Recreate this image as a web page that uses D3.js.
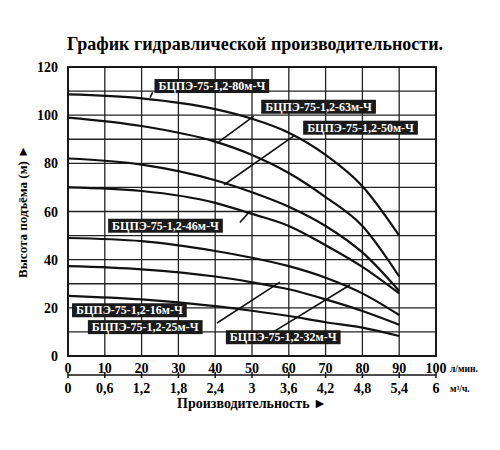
<!DOCTYPE html>
<html><head><meta charset="utf-8">
<script src="https://cdn.jsdelivr.net/npm/d3@7"></script>
<style>body{margin:0;background:#fff}</style>
</head><body><div id="chart"></div>
<script>
// flow, l/min
var flow = [0, 20, 40, 50, 60, 70, 80, 90];
var flowTicks = [0, 10, 20, 30, 40, 50, 60, 70, 80, 90, 100];
var m3Ticks = ["0", "0,6", "1,2", "1,8", "2,4", "3", "3,6", "4,2", "4,8", "5,4", "6"];
var headTicks = [0, 20, 40, 60, 80, 100, 120];

var pump80 = [108.6, 107, 102.5, 98.5, 92.7, 83.5, 70.5, 50];
var pump63 = [99, 95.5, 89, 83.5, 76, 66, 54, 33];
var pump50 = [82, 79.5, 73, 68, 62, 54, 43, 27];
var pump46 = [70, 68.5, 63.6, 59, 54, 46, 37, 26];
var pump32 = [49, 47.7, 43.6, 40.8, 37.3, 32.5, 26, 17];
var pump25 = [37.3, 36, 33, 30.6, 27.7, 23.5, 18.7, 13];
var pump16 = [25, 23.5, 20.7, 18.8, 16.6, 14, 11.8, 8.3];
var allPumps = [pump80, pump63, pump50, pump46, pump32, pump25, pump16];

// labels: name, box left/top in data units, leader from (data) to (data)
var labelNames = ["БЦПЭ-75-1,2-80м-Ч", "БЦПЭ-75-1,2-63м-Ч", "БЦПЭ-75-1,2-50м-Ч", "БЦПЭ-75-1,2-46м-Ч",
                  "БЦПЭ-75-1,2-16м-Ч", "БЦПЭ-75-1,2-25м-Ч", "БЦПЭ-75-1,2-32м-Ч"];
var labelPos = [[23.5, 115], [52.5, 106.4], [63.9, 97.7], [10.9, 57], [1.1, 21.9], [5.4, 14.9], [42.9, 10.7]];
var leaderFrom = [[23, 109.5], [50.5, 99.6], [61.4, 91.4], [49.5, 60.2], [null, null], [40.5, 13.7], [55.7, 9.9]];
var leaderTo = [[22.3, 107.3], [40.5, 88.4], [42.4, 71.1], [46.7, 55.4], [null, null], [57.6, 30.7], [76.6, 29.5]];

var W = 500, H = 450;
var margin = {top: 67, right: 64, bottom: 94, left: 68};
var width = 436 - 68, height = 356 - 67;

var svg = d3.select('#chart').append('svg').attr('width', W).attr('height', H)
  .style('font-family', '"Liberation Serif", "DejaVu Serif", serif').style('font-weight', 'bold');

svg.append('text').attr('x', 255).attr('y', 50).attr('text-anchor', 'middle')
  .attr('font-size', '18px').text('График гидравлической производительности.');

var g = svg.append('g').attr('transform', 'translate(' + margin.left + ',' + margin.top + ')');

var x = d3.scaleLinear().domain([0, 100]).range([0, width]);
var y = d3.scaleLinear().domain([0, 120]).range([height, 0]);

// grid
g.selectAll('.vg').data(d3.range(0, 101, 10)).enter().append('line')
  .attr('x1', d => x(d)).attr('x2', d => x(d)).attr('y1', 0).attr('y2', height)
  .attr('stroke', '#222').attr('stroke-width', 1.3);
g.selectAll('.hg').data(d3.range(0, 121, 10)).enter().append('line')
  .attr('y1', d => y(d)).attr('y2', d => y(d)).attr('x1', 0).attr('x2', width)
  .attr('stroke', '#222').attr('stroke-width', 1.3);
g.append('rect').attr('width', width).attr('height', height)
  .attr('fill', 'none').attr('stroke', '#111').attr('stroke-width', 1.8);

// y ticks
g.selectAll('.yt').data(headTicks).enter().append('text')
  .attr('x', -10).attr('y', d => y(d) + 5).attr('text-anchor', 'end')
  .attr('font-size', '14px').text(d => d);

svg.append('text').attr('transform', 'translate(27,' + (margin.top + height / 2) + ') rotate(-90)')
  .attr('text-anchor', 'middle').attr('font-size', '13px').text('Высота подъёма (м) ►');

// curves
var line = d3.line().x((d, i) => x(flow[i])).y(d => y(d)).curve(d3.curveMonotoneX);
g.selectAll('.curve').data(allPumps).enter().append('path')
  .attr('d', line).attr('fill', 'none').attr('stroke', '#111').attr('stroke-width', 2.2);

// leaders
labelNames.forEach(function(n, i) {
  if (leaderFrom[i][0] !== null) {
    g.append('line').attr('x1', x(leaderFrom[i][0])).attr('y1', y(leaderFrom[i][1]))
      .attr('x2', x(leaderTo[i][0])).attr('y2', y(leaderTo[i][1]))
      .attr('stroke', '#111').attr('stroke-width', 1.6);
  }
});
// label boxes
labelNames.forEach(function(n, i) {
  var lg = g.append('g').attr('transform', 'translate(' + x(labelPos[i][0]) + ',' + y(labelPos[i][1]) + ')');
  var t = lg.append('text').attr('x', 4).attr('y', 11).attr('font-size', '12px').attr('fill', '#fff').text(n);
  var w = t.node().getComputedTextLength();
  lg.insert('rect', 'text').attr('width', w + 8).attr('height', 14).attr('fill', '#1a1a1a');
});

// bottom axes
var bx = g.append('g').attr('transform', 'translate(0,' + height + ')');
bx.selectAll('.xt').data(flowTicks).enter().append('text')
  .attr('x', d => x(d)).attr('y', 17).attr('text-anchor', 'middle').attr('font-size', '14px').text(d => d);
bx.append('text').attr('x', width + 14).attr('y', 16).attr('font-size', '9.5px').text('л/мин.');
bx.append('line').attr('x1', 0).attr('x2', width).attr('y1', 19).attr('y2', 19).attr('stroke', '#111').attr('stroke-width', 1.5);
bx.selectAll('.xk').data(flowTicks).enter().append('line')
  .attr('x1', d => x(d)).attr('x2', d => x(d)).attr('y1', 16).attr('y2', 22).attr('stroke', '#111').attr('stroke-width', 1.5);
bx.selectAll('.mt').data(m3Ticks).enter().append('text')
  .attr('x', (d, i) => x(flowTicks[i])).attr('y', 37).attr('text-anchor', 'middle').attr('font-size', '14px').text(d => d);
bx.append('text').attr('x', width + 14).attr('y', 36).attr('font-size', '9.5px').text('м³/ч.');
bx.append('text').attr('x', x(50)).attr('y', 52).attr('text-anchor', 'middle').attr('font-size', '14px').text('Производительность ►');
</script></body></html>
